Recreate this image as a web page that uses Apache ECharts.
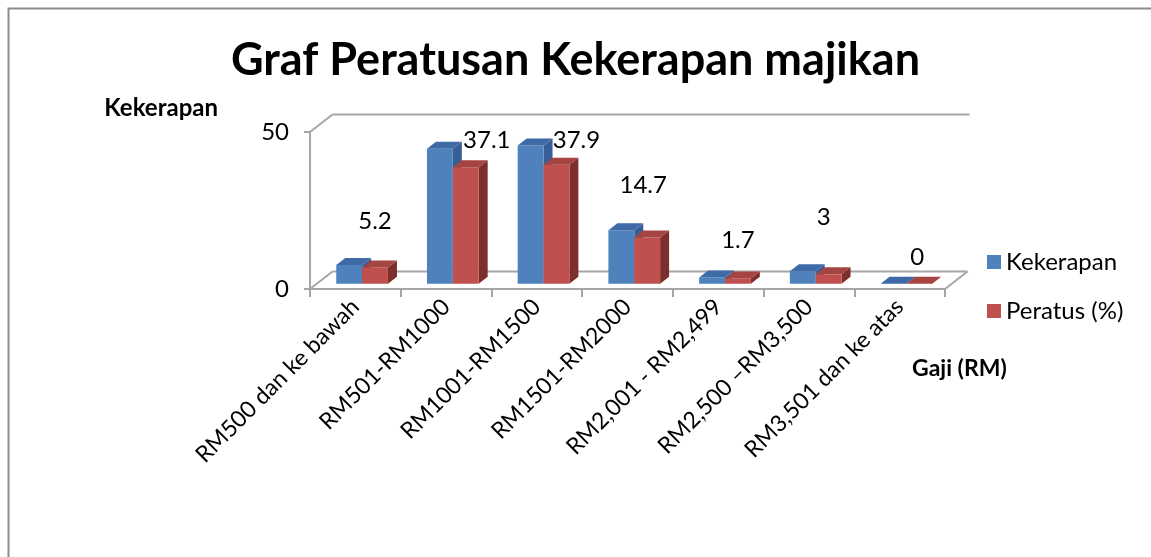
<!DOCTYPE html>
<html>
<head>
<meta charset="utf-8">
<title>Graf Peratusan Kekerapan majikan</title>
<script src="https://cdn.jsdelivr.net/npm/echarts@6/dist/echarts.min.js"></script>
<style>
  html, body { margin: 0; padding: 0; background: #fff; }
  #chart { width: 1151px; height: 557px; }
</style>
</head>
<body>
<div id="chart"></div>
<script>
// data
const categories = [
    'RM500 dan ke bawah',
    'RM501-RM1000',
    'RM1001-RM1500',
    'RM1501-RM2000',
    'RM2,001 - RM2,499',
    'RM2,500 \u2013RM3,500',
    'RM3,501 dan ke atas'
];
const kekerapan = [6, 43, 44, 17, 2, 4, 0];
const peratus = [5.2, 37.1, 37.9, 14.7, 1.7, 3, 0];
const yTicks = [0, 50];

// label nudges (px) relative to the top of each red bar, like the hand-placed labels in the original
const labelNudge = [[0, -46], [21, -27], [20, -24], [-4, -52], [0, -38], [-5, -57], [-2, -26]];

const FONT = 'Lato, "Open Sans", sans-serif';
const DX = 22.5, DY = -17.5;      // full depth of the 3D box
const F0 = 0.3, F1 = 0.7;         // bars sit between these depth fractions
const GROUP = 0.57;               // share of category used by the two bars

const chartDom = document.getElementById('chart');
const myChart = echarts.init(chartDom, null, { renderer: 'canvas' });

const palette = [
    { front: '#4f81bd', side: '#385f95', top: '#3e6aa8' },
    { front: '#c0504d', side: '#7c2f2d', top: '#a64442' }
];

function barRenderer(seriesIdx) {
    return function (params, api) {
        const i = api.value(0);
        const v = api.value(1);
        const base = api.coord([i, 0]);
        const top = api.coord([i, v]);
        const bw = api.size([1, 0])[0];
        const w = bw * GROUP / 2;
        const ox = DX * F0, oy = DY * F0;
        const ddx = DX * (F1 - F0), ddy = DY * (F1 - F0);
        const xl = base[0] - w + seriesIdx * w + ox;
        const xr = xl + w;
        const yb = base[1] + oy;
        const yt = top[1] + oy;
        const c = palette[seriesIdx];
        const children = [
            { type: 'polygon', shape: { points: [[xr, yt], [xr, yb], [xr + ddx, yb + ddy], [xr + ddx, yt + ddy]] },
              style: { fill: c.side } },
            { type: 'rect', shape: { x: xl, y: yt, width: w, height: yb - yt },
              style: { fill: c.front } },
            { type: 'polygon', shape: { points: [[xl, yt], [xr, yt], [xr + ddx, yt + ddy], [xl + ddx, yt + ddy]] },
              style: { fill: c.top } }
        ];
        if (seriesIdx === 1) {
            const n = labelNudge[i] || [0, -30];
            children.push({
                type: 'text',
                style: {
                    text: String(v), x: xl + w / 2 + n[0], y: yt + n[1],
                    align: 'center', verticalAlign: 'middle',
                    fill: '#000', font: '24px ' + FONT
                }
            });
        }
        return { type: 'group', children: children };
    };
}

function frameRenderer(params, api) {
    const cs = params.coordSys;
    const x0 = cs.x, x1 = cs.x + cs.width;
    const y0 = api.coord([0, yTicks[0]])[1];
    const yTop = api.coord([0, yTicks[yTicks.length - 1]])[1];
    const st = { stroke: '#a6a6a6', lineWidth: 2, fill: null };
    const line = (a, b) => ({ type: 'line', shape: { x1: a[0], y1: a[1], x2: b[0], y2: b[1] }, style: st });
    return {
        type: 'group',
        children: [
            line([x0, yTop], [x0 + DX, yTop + DY]),
            line([x0 + DX, yTop + DY], [x1 + DX + 2, yTop + DY]),
            line([x0, y0], [x0 + DX, y0 + DY]),
            line([x0 + DX, y0 + DY], [x1 + DX, y0 + DY]),
            line([x1, y0], [x1 + DX, y0 + DY])
        ]
    };
}

const option = {
    animation: false,
    textStyle: { fontFamily: FONT },
    title: {
        text: 'Graf Peratusan Kekerapan majikan',
        left: 'center',
        top: 33,
        textStyle: { fontSize: 45, fontWeight: 'bold', color: '#000', fontFamily: FONT }
    },
    legend: {
        orient: 'vertical',
        left: 982,
        top: 245,
        itemWidth: 14,
        itemHeight: 14,
        itemGap: 25,
        icon: 'rect',
        textStyle: { fontSize: 24, color: '#000', fontFamily: FONT },
        data: ['Kekerapan', 'Peratus (%)']
    },
    grid: { left: 310, top: 132, width: 635, height: 157 },
    xAxis: {
        type: 'category',
        data: categories,
        axisLine: { show: true, lineStyle: { color: '#a6a6a6', width: 2 } },
        axisTick: { show: true, length: 8, lineStyle: { color: '#a6a6a6', width: 2 } },
        axisLabel: { interval: 0, rotate: 45, margin: 14, fontSize: 23, color: '#000', fontFamily: FONT }
    },
    yAxis: {
        type: 'value',
        min: 0,
        max: 50,
        interval: 50,
        name: 'Kekerapan',
        nameLocation: 'end',
        nameGap: 12,
        nameTextStyle: { align: 'right', padding: [0, 92, 0, 0], fontSize: 24, fontWeight: 'bold', color: '#000', fontFamily: FONT },
        axisLine: { show: true, lineStyle: { color: '#a6a6a6', width: 2 } },
        axisTick: { show: true, length: 6, lineStyle: { color: '#a6a6a6', width: 2 } },
        splitLine: { show: false },
        axisLabel: { margin: 21, fontSize: 24, color: '#000', fontFamily: FONT }
    },
    graphic: [
        { type: 'rect', left: 6, top: 6, shape: { width: 1170, height: 600 },
          style: { fill: null, stroke: '#8c8c8c', lineWidth: 2 }, silent: true },
        { type: 'text', left: 912, top: 357,
          style: { text: 'Gaji (RM)', font: 'bold 23px ' + FONT, fill: '#000' } }
    ],
    series: [
        {
            type: 'custom',
            name: 'frame',
            renderItem: frameRenderer,
            data: [[0, 0]],
            silent: true,
            z: 1
        },
        {
            type: 'custom',
            name: 'Kekerapan',
            itemStyle: { color: palette[0].front },
            renderItem: barRenderer(0),
            data: kekerapan.map((v, i) => [i, v]),
            z: 3
        },
        {
            type: 'custom',
            name: 'Peratus (%)',
            itemStyle: { color: palette[1].front },
            renderItem: barRenderer(1),
            data: peratus.map((v, i) => [i, v]),
            z: 4
        }
    ]
};

myChart.setOption(option);
</script>
</body>
</html>
